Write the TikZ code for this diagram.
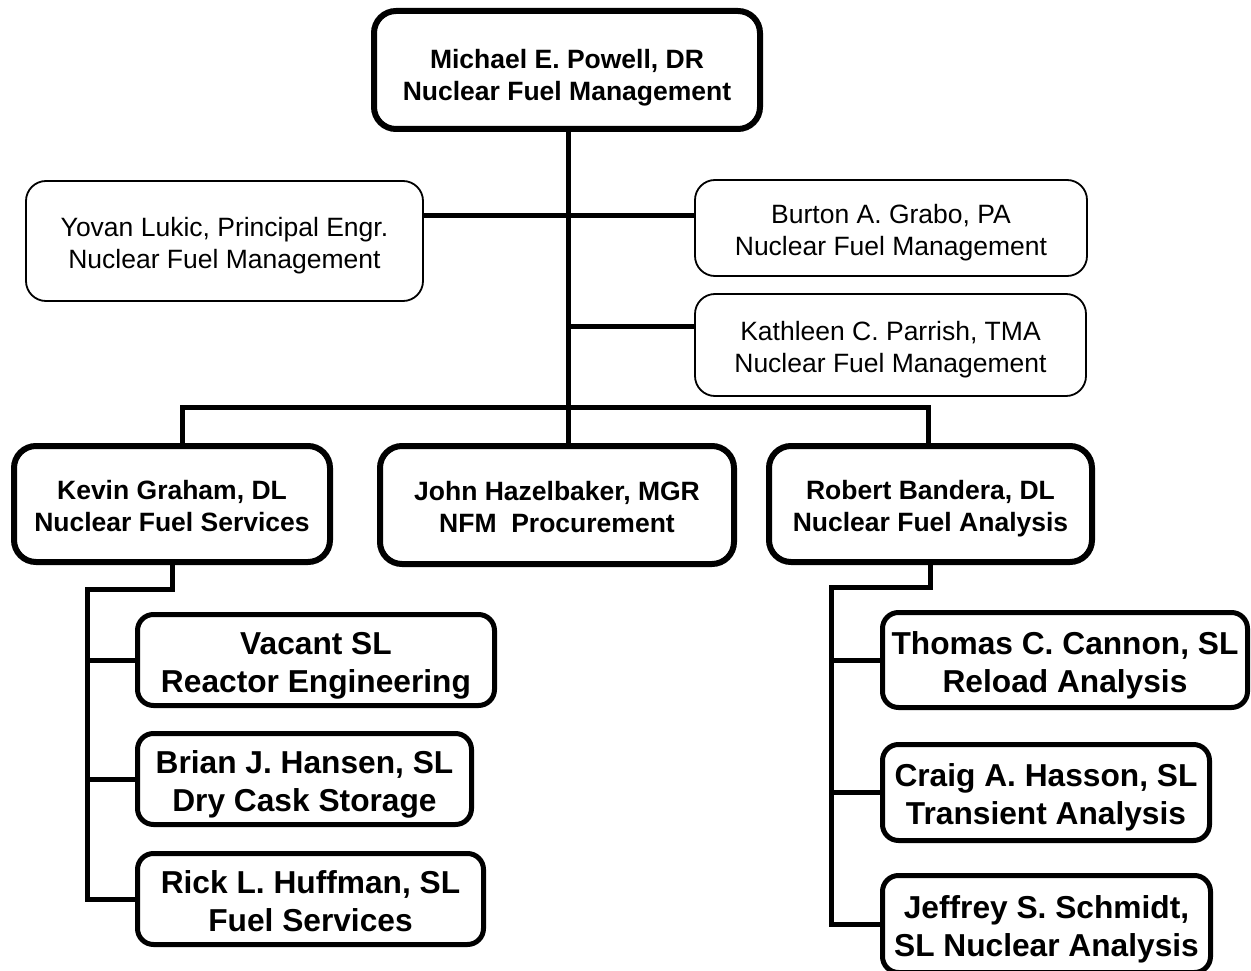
\documentclass[tikz,border=0pt]{standalone}
\usepackage{fontspec}
\setmainfont{Liberation Sans}
\begin{document}
\begin{tikzpicture}[x=1pt,y=-1pt]
    \tikzstyle{boxA}=[draw,rounded corners=20pt,line width=1.8pt,align=center,inner sep=0pt,font=\fontsize{26.5}{32}\selectfont,text height=62pt,text depth=7pt]
    \tikzstyle{boxB}=[draw,rounded corners=22pt,line width=6pt,align=center,inner sep=0pt,font=\bfseries\fontsize{26.5}{31.5}\selectfont,text height=61.5pt,text depth=7pt]
    \tikzstyle{boxC}=[draw,rounded corners=16pt,line width=5pt,align=center,inner sep=0pt,font=\bfseries\fontsize{31.7}{38}\selectfont,text height=73pt,text depth=8.5pt]
    \tikzstyle{lien}=[line width=5pt]
    \useasboundingbox (0,0) rectangle (1251,971);
    \node[boxB,minimum width=386pt,minimum height=118pt,text height=67.5pt] (1) at (567,70) {Michael E. Powell, DR\\Nuclear Fuel Management};
    \node[boxA,minimum width=397pt,minimum height=120pt] (2) at (224.5,241) {Yovan Lukic, Principal Engr.\\Nuclear Fuel Management};
    \node[boxA,minimum width=392pt,minimum height=96pt] (3) at (891,228) {Burton A. Grabo, PA\\Nuclear Fuel Management};
    \node[boxA,minimum width=391pt,minimum height=102pt] (4) at (890.5,345) {Kathleen C. Parrish, TMA\\Nuclear Fuel Management};
    \node[boxB,minimum width=316pt,minimum height=116pt] (5) at (172,504) {Kevin Graham, DL\\Nuclear Fuel Services};
    \node[boxB,minimum width=354pt,minimum height=118pt] (6) at (557,505) {John Hazelbaker, MGR\\NFM~ Procurement};
    \node[boxB,minimum width=323pt,minimum height=116pt] (7) at (930.5,504) {Robert Bandera, DL\\Nuclear Fuel Analysis};
    \node[boxC,minimum width=357pt,minimum height=91pt] (8) at (316,660) {Vacant SL\\Reactor Engineering};
    \node[boxC,minimum width=334pt,minimum height=91pt] (9) at (304.5,779) {Brian J. Hansen, SL\\Dry Cask Storage};
    \node[boxC,minimum width=346pt,minimum height=91pt] (10) at (310.5,899) {Rick L. Huffman, SL\\Fuel Services};
    \node[boxC,minimum width=365pt,minimum height=95pt] (11) at (1065,660) {Thomas C. Cannon, SL\\Reload Analysis};
    \node[boxC,minimum width=327pt,minimum height=96pt] (12) at (1046,792.5) {Craig A. Hasson, SL\\Transient Analysis};
    \node[boxC,minimum width=328pt,minimum height=97pt] (13) at (1046.5,924) {Jeffrey S. Schmidt,\\SL Nuclear Analysis};
    \coordinate (a) at (568,215);
    \coordinate (b) at (568,326);
    \coordinate (g) at (182,407);
    \coordinate (d) at (928,407);
    \coordinate (e) at (87,589);
    \coordinate (f) at (831,587);
    \draw[lien] (a |- 1.south) -- (a |- 6.north);
    \draw[lien] (a -| 2.east) -- (a) -- (a -| 3.west);
    \draw[lien] (b) -- (b -| 4.west);
    \draw[lien] (g |- 5.north) -- (g) -- (d) -- (d |- 7.north);
    \draw[lien] (5.south) |- (e) -- (e |- 10.west) -- (10.west);
    \draw[lien] (e |- 8.west) -- (8.west);
    \draw[lien] (e |- 9.west) -- (9.west);
    \draw[lien] (7.south) |- (f) -- (f |- 13.west) -- (13.west);
    \draw[lien] (f |- 11.west) -- (11.west);
    \draw[lien] (f |- 12.west) -- (12.west);
\end{tikzpicture}
\end{document}
